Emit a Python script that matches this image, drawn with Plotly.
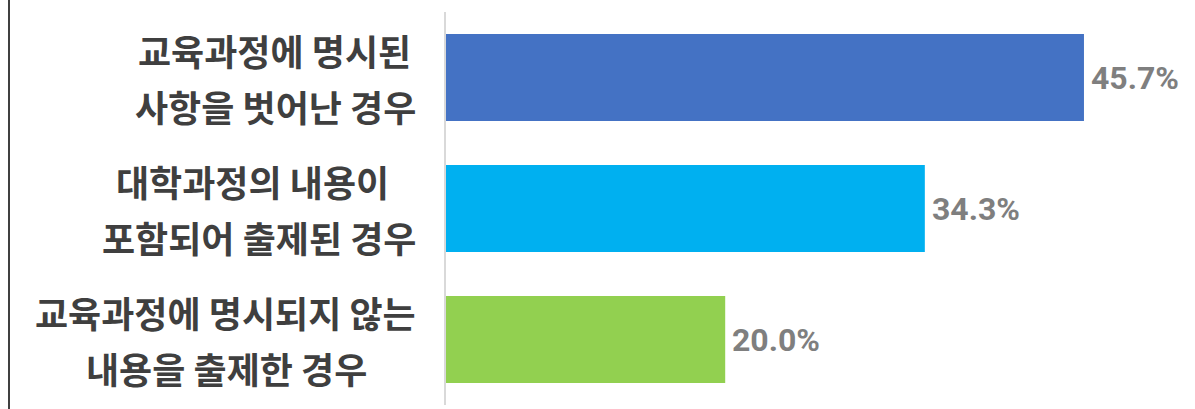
import plotly.graph_objects as go

categories = ["교육과정에 명시된 사항을 벗어난 경우",
              "대학과정의 내용이 포함되어 출제된 경우",
              "교육과정에 명시되지 않는 내용을 출제한 경우"]
label_line1 = ["교육과정에 명시된", "대학과정의 내용이", "교육과정에 명시되지 않는"]
label_line2 = ["사항을 벗어난 경우", "포함되어 출제된 경우", "내용을 출제한 경우"]
values = [45.7, 34.3, 20.0]
bar_colors = ["#4472C4", "#00B0F0", "#92D050"]

W, H = 1195, 409
ML, MR, MT, MB = 446, 51, 12, 4
plot_w = W - ML - MR

# horizontal pixel centers of the label lines (layout only)
line1_center = [274, 252, 225]
line2_center = [275, 259, 226]

fig = go.Figure(go.Bar(
    x=values, y=categories, orientation="h",
    marker=dict(color=bar_colors, line=dict(width=0)),
    width=0.665, hoverinfo="skip",
))

label_font = dict(family="Noto Sans CJK KR", size=36, color="#3f3f3f", weight="bold")
val_font = dict(family="Roboto", size=32, color="#7f7f7f", weight="bold")

ann = []
for i, c in enumerate(categories):
    ann.append(dict(x=0, y=c, xref="x", yref="y", text=label_line1[i],
                    xanchor="center", yanchor="middle", showarrow=False,
                    xshift=line1_center[i] - ML, yshift=28, font=label_font))
    ann.append(dict(x=0, y=c, xref="x", yref="y", text=label_line2[i],
                    xanchor="center", yanchor="middle", showarrow=False,
                    xshift=line2_center[i] - ML, yshift=-28, font=label_font))
    ann.append(dict(x=values[i], y=c, xref="x", yref="y", text=f"{values[i]:.1f}%",
                    xanchor="left", yanchor="middle", showarrow=False,
                    xshift=5, font=val_font))

fig.update_layout(
    width=W, height=H,
    margin=dict(l=ML, r=MR, t=MT, b=MB),
    paper_bgcolor="white", plot_bgcolor="white",
    showlegend=False,
    annotations=ann,
    xaxis=dict(range=[0, 50], visible=False, showgrid=False, zeroline=False),
    yaxis=dict(autorange="reversed", showticklabels=False, showgrid=False,
               showline=True, linecolor="#d9d9d9", linewidth=1.5, ticks=""),
    shapes=[dict(type="line", xref="paper", yref="paper",
                 x0=(9 - ML) / plot_w, x1=(9 - ML) / plot_w, y0=-0.05, y1=1.05,
                 line=dict(color="#404040", width=2))],
)

fig.write_html("out.html", config={"displayModeBar": False},
               post_script="document.body.style.margin='0';document.body.style.overflow='hidden';")
